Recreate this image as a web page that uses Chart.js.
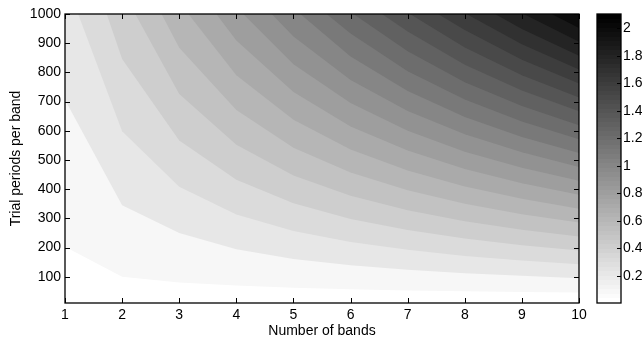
<!DOCTYPE html>
<html><head><meta charset="utf-8">
<script src="https://cdn.jsdelivr.net/npm/chart.js@4/dist/chart.umd.min.js"></script>
<style>
html,body{margin:0;padding:0;background:#fff;}
#wrap{position:relative;width:642px;height:337px;overflow:hidden;}
#main{position:absolute;left:0;top:0;}
#cbar{position:absolute;left:560px;top:0;}
</style></head><body>
<div id="wrap">
<canvas id="main" width="642" height="337"></canvas>
<canvas id="cbar" width="82" height="337"></canvas>
</div>
<script>
// ---- data ----
const bands = [1, 2, 3, 4, 5, 6, 7, 8, 9, 10];
const xTicks = [1, 2, 3, 4, 5, 6, 7, 8, 9, 10];
const yTicks = [100, 200, 300, 400, 500, 600, 700, 800, 900, 1000];
const colorTicks = [0.2, 0.4, 0.6, 0.8, 1, 1.2, 1.4, 1.6, 1.8, 2];
const colorMin = 0.002;
const colorMax = 2.105;
const periodMin = 10;
const periodMax = 1000;
// contour levels
const levels = [0.1,0.2,0.3,0.4,0.5,0.6,0.7,0.8,0.9,1.0,1.1,1.2,1.3,1.4,1.5,1.6,1.7,1.8,1.9,2.0];
// band value where each contour leaves the top edge (null: enters from the left edge)
const topCrossing = [null,null,1.23,1.73,2.23,2.69,3.16,3.65,4.12,4.62,5.12,5.58,6.05,6.55,7.04,7.53,8.03,8.53,9.03,9.52];
// trial periods of each contour at bands 1..10 (null: above the plot)
const contourPeriods = [
  [203,100,80,70,62,57,53,50,48,46],
  [706,345,250,194,161,139,124,112,103,95],
  [null,598,408,313,257,219,192,171,156,143],
  [null,846,567,432,352,298,260,231,208,190],
  [null,null,726,552,447,377,328,290,261,238],
  [null,null,884,671,542,457,396,350,314,286],
  [null,null,null,790,638,536,464,409,367,333],
  [null,null,null,909,733,615,532,469,420,381],
  [null,null,null,null,828,695,600,528,473,429],
  [null,null,null,null,923,774,668,588,526,476],
  [null,null,null,null,null,854,736,647,579,524],
  [null,null,null,null,null,933,804,707,632,571],
  [null,null,null,null,null,null,872,766,685,619],
  [null,null,null,null,null,null,940,826,738,667],
  [null,null,null,null,null,null,null,885,790,714],
  [null,null,null,null,null,null,null,945,843,762],
  [null,null,null,null,null,null,null,null,896,810],
  [null,null,null,null,null,null,null,null,949,857],
  [null,null,null,null,null,null,null,null,null,905],
  [null,null,null,null,null,null,null,null,null,952]
];

const FONT = {family: '"Liberation Sans", Arial, Helvetica, sans-serif', size: 14};
const CMAP_N = 64;

// flipped gray colormap with 64 entries
function grayFor(v) {
  let idx = Math.floor((v - colorMin) / (colorMax - colorMin) * CMAP_N);
  idx = Math.max(0, Math.min(CMAP_N - 1, idx));
  const g = Math.round(255 * (1 - idx / (CMAP_N - 1)));
  return `rgb(${g},${g},${g})`;
}

const datasets = levels.map((lev, i) => {
  const pts = [];
  if (topCrossing[i] !== null) pts.push({x: topCrossing[i], y: periodMax});
  bands.forEach((b, j) => {
    const p = contourPeriods[i][j];
    if (p !== null) pts.push({x: b, y: p});
  });
  return {
    data: pts,
    fill: 'end',
    backgroundColor: grayFor(lev),
    borderWidth: 0,
    pointRadius: 0,
    tension: 0,
    order: levels.length - i
  };
});

const mainPlugin = {
  id: 'mainDeco',
  beforeDatasetsDraw(chart) {
    const {ctx, chartArea: a} = chart;
    ctx.save();
    ctx.fillStyle = grayFor(colorMin);
    ctx.fillRect(a.left, a.top, a.right - a.left, a.bottom - a.top);
    ctx.restore();
  },
  afterDraw(chart) {
    const {ctx, chartArea: a, scales} = chart;
    ctx.save();
    ctx.strokeStyle = '#000';
    ctx.lineWidth = 1;
    ctx.beginPath();
    const L = 5;
    xTicks.forEach(v => {
      const x = Math.round(scales.x.getPixelForValue(v)) + 0.5;
      ctx.moveTo(x, a.bottom); ctx.lineTo(x, a.bottom - L);
      ctx.moveTo(x, a.top); ctx.lineTo(x, a.top + L);
    });
    yTicks.forEach(v => {
      const y = Math.round(scales.y.getPixelForValue(v)) + 0.5;
      ctx.moveTo(a.left, y); ctx.lineTo(a.left + L, y);
      ctx.moveTo(a.right, y); ctx.lineTo(a.right - L, y);
    });
    ctx.stroke();
    ctx.lineWidth = 1.3;
    ctx.strokeRect(a.left, a.top, a.right - a.left, a.bottom - a.top);
    ctx.restore();
  }
};

new Chart(document.getElementById('main'), {
  type: 'line',
  data: {datasets},
  options: {
    responsive: false,
    animation: false,
    events: [],
    layout: {padding: {left: 0, top: 14, right: 63, bottom: 0}},
    plugins: {legend: {display: false}, tooltip: {enabled: false}},
    scales: {
      x: {
        type: 'linear', min: 1, max: 10,
        afterBuildTicks: s => { s.ticks = xTicks.map(v => ({value: v})); },
        afterFit: s => { s.height = 34; },
        grid: {display: false, drawTicks: false},
        border: {display: false},
        ticks: {color: '#000', font: FONT, padding: 4, maxRotation: 0, callback: v => String(v)},
        title: {display: true, text: 'Number of bands', color: '#000', font: FONT, padding: {top: 0, bottom: -3}}
      },
      y: {
        type: 'linear', min: periodMin, max: periodMax,
        afterBuildTicks: s => { s.ticks = yTicks.map(v => ({value: v})); },
        afterFit: s => { s.width = 65; },
        grid: {display: false, drawTicks: false},
        border: {display: false},
        ticks: {color: '#000', font: FONT, padding: 4, callback: v => String(v)},
        title: {display: true, text: 'Trial periods per band', color: '#000', font: FONT, padding: {top: 8, bottom: 0}}
      }
    }
  },
  plugins: [mainPlugin]
});

const cbarPlugin = {
  id: 'cbarDeco',
  afterDraw(chart) {
    const {ctx, chartArea: a, scales} = chart;
    ctx.save();
    ctx.strokeStyle = '#000';
    ctx.lineWidth = 1;
    ctx.beginPath();
    colorTicks.forEach(v => {
      const y = Math.round(scales.y.getPixelForValue(v)) + 0.5;
      ctx.moveTo(a.right, y); ctx.lineTo(a.right - 4, y);
    });
    ctx.stroke();
    ctx.lineWidth = 1.3;
    ctx.strokeRect(a.left, a.top, a.right - a.left, a.bottom - a.top);
    ctx.restore();
  }
};

new Chart(document.getElementById('cbar'), {
  type: 'bar',
  data: {
    labels: [''],
    datasets: [{
      data: [[colorMin, colorMax]],
      barPercentage: 1, categoryPercentage: 1, borderWidth: 0,
      backgroundColor: (c) => {
        const ch = c.chart;
        if (!ch.chartArea) return '#888';
        const y0 = ch.scales.y.getPixelForValue(colorMin);
        const y1 = ch.scales.y.getPixelForValue(colorMax);
        const g = ch.ctx.createLinearGradient(0, y0, 0, y1);
        for (let i = 0; i < CMAP_N; i++) {
          const gv = Math.round(255 * (1 - i / (CMAP_N - 1)));
          const col = `rgb(${gv},${gv},${gv})`;
          g.addColorStop(i / CMAP_N, col);
          g.addColorStop((i + 1) / CMAP_N, col);
        }
        return g;
      }
    }]
  },
  options: {
    responsive: false,
    animation: false,
    events: [],
    layout: {padding: {left: 37, top: 14, right: 0, bottom: 34}},
    plugins: {legend: {display: false}, tooltip: {enabled: false}},
    scales: {
      x: {display: false},
      y: {
        position: 'right', min: colorMin, max: colorMax,
        afterBuildTicks: s => { s.ticks = colorTicks.map(v => ({value: v})); },
        afterFit: s => { s.width = 21; },
        grid: {display: false, drawTicks: false},
        border: {display: false},
        ticks: {color: '#000', font: FONT, padding: 2, callback: v => String(v)}
      }
    }
  },
  plugins: [cbarPlugin]
});
</script>
</body></html>
